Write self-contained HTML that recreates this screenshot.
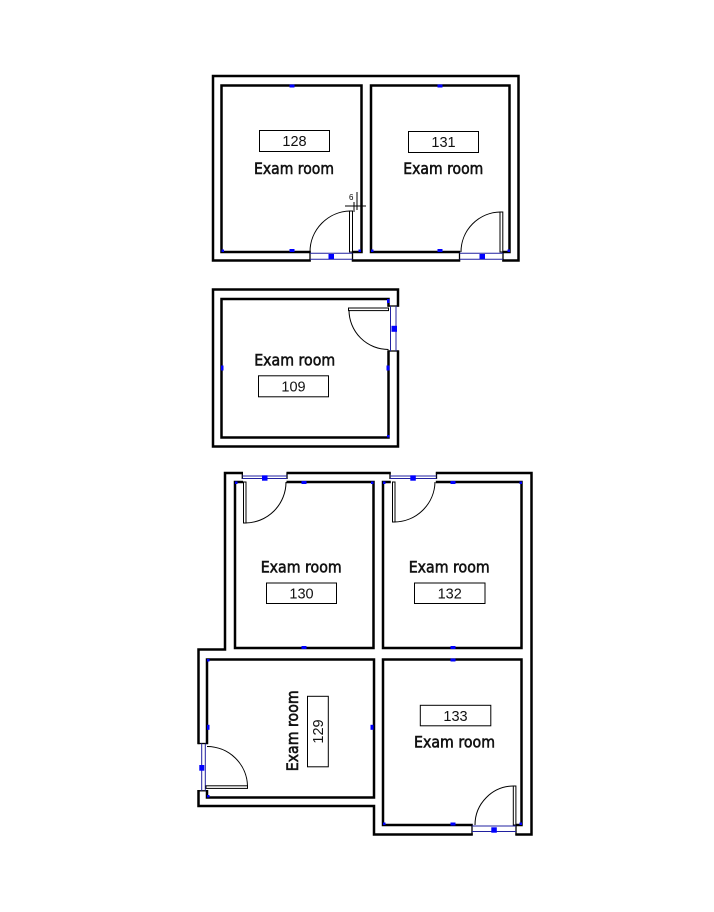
<!DOCTYPE html>
<html><head><meta charset="utf-8"><style>
html,body{margin:0;padding:0;background:#fff;}
svg{display:block;}
.w{fill:none;stroke:#000;stroke-width:2.5;}
.j{fill:none;stroke:#000;stroke-width:1.3;}
.n{fill:none;stroke:#2020a0;stroke-width:1;}
.b{fill:#0000ff;}
.leaf{fill:#fff;stroke:#000;stroke-width:1;}
.arc{fill:none;stroke:#000;stroke-width:1;}
.lbl{font-family:"DejaVu Sans","Liberation Sans",sans-serif;font-size:16px;fill:#111;stroke:#111;stroke-width:0.6;}
.num{font-family:"Liberation Sans",sans-serif;font-size:14.5px;fill:#111;}
.box{fill:#fff;stroke:#000;stroke-width:1;}
</style></head><body>
<svg width="714" height="912" viewBox="0 0 714 912" xmlns="http://www.w3.org/2000/svg">
<rect width="714" height="912" fill="#fff"/>

<!-- ===== TOP BLOCK ===== -->
<rect class="w" x="213" y="76" width="305.5" height="184.5"/>
<rect class="w" x="221.5" y="85.5" width="140" height="166.5"/>
<rect class="w" x="371" y="85.5" width="138.5" height="166.5"/>
<!-- door 128 -->
<rect x="310.8" y="249.5" width="41" height="13" fill="#fff"/>
<line class="j" x1="310" y1="251.5" x2="310" y2="261.5"/>
<line class="j" x1="352.5" y1="251.5" x2="352.5" y2="261.5"/>
<line class="n" x1="310" y1="253.3" x2="352.5" y2="253.3"/>
<line class="n" x1="310" y1="259.3" x2="352.5" y2="259.3"/>
<rect class="b" x="328.5" y="254" width="5.5" height="5"/>
<rect class="leaf" x="349.5" y="211" width="3" height="41"/>
<path class="arc" d="M350,211 A41,41 0 0,0 310,252"/>
<text x="349" y="200" font-family="Liberation Sans,sans-serif" font-size="8" fill="#000">6</text>
<line x1="345" y1="206" x2="366" y2="206" stroke="#000" stroke-width="1"/>
<line x1="354" y1="202" x2="354" y2="212" stroke="#000" stroke-width="1"/>
<line x1="357" y1="192" x2="357" y2="210" stroke="#000" stroke-width="1"/>
<!-- door 131 -->
<rect x="460.2" y="249.5" width="42" height="13" fill="#fff"/>
<line class="j" x1="459.5" y1="251.5" x2="459.5" y2="261.5"/>
<line class="j" x1="503" y1="251.5" x2="503" y2="261.5"/>
<line class="n" x1="459.5" y1="253.3" x2="503" y2="253.3"/>
<line class="n" x1="459.5" y1="259.3" x2="503" y2="259.3"/>
<rect class="b" x="479.5" y="254" width="5.5" height="5"/>
<rect class="leaf" x="500" y="212" width="2.8" height="40"/>
<path class="arc" d="M500.5,212 A40,40 0 0,0 461,252"/>
<!-- markers -->
<rect class="b" x="289.5" y="84.5" width="5" height="3"/>
<rect class="b" x="289.5" y="249" width="5" height="3"/>
<rect class="b" x="437.5" y="84.5" width="5" height="3"/>
<rect class="b" x="437.5" y="249" width="5" height="3"/>
<rect class="b" x="221.5" y="249.5" width="2.5" height="2.5"/>
<rect class="b" x="358.5" y="249.5" width="2.5" height="2.5"/>
<rect class="b" x="371" y="249.5" width="2.5" height="2.5"/>
<rect class="b" x="507.5" y="249.5" width="2.5" height="2.5"/>
<!-- labels -->
<rect class="box" x="259.5" y="130.5" width="70" height="21"/>
<text class="num" x="294.5" y="146" text-anchor="middle">128</text>
<text class="lbl" x="294" y="174" text-anchor="middle" textLength="80" lengthAdjust="spacingAndGlyphs">Exam room</text>
<rect class="box" x="408.5" y="131.5" width="70" height="21"/>
<text class="num" x="443.5" y="147" text-anchor="middle">131</text>
<text class="lbl" x="443.3" y="174" text-anchor="middle" textLength="80" lengthAdjust="spacingAndGlyphs">Exam room</text>

<!-- ===== MIDDLE BLOCK (109) ===== -->
<rect class="w" x="213" y="289.5" width="185" height="157"/>
<rect class="w" x="221.5" y="299" width="167" height="138.5"/>
<rect x="387" y="306.8" width="12.5" height="43.5" fill="#fff"/>
<line class="j" x1="388" y1="306" x2="398.5" y2="306"/>
<line class="j" x1="388" y1="351" x2="398.5" y2="351"/>
<line class="n" x1="390.5" y1="306" x2="390.5" y2="351"/>
<line class="n" x1="396" y1="306" x2="396" y2="351"/>
<rect class="b" x="391.5" y="325.8" width="5.5" height="6"/>
<rect class="leaf" x="348.5" y="308" width="40" height="2.6"/>
<path class="arc" d="M349,310 A39.5,39.5 0 0,0 388.5,349.5"/>
<rect class="b" x="221" y="365.5" width="2.5" height="5"/>
<rect class="b" x="386.5" y="365.5" width="3" height="5"/>
<rect class="b" x="387" y="299" width="2.5" height="4"/>
<rect class="b" x="387" y="435" width="2.5" height="2.5"/>
<text class="lbl" x="294.7" y="365.7" text-anchor="middle" textLength="81" lengthAdjust="spacingAndGlyphs">Exam room</text>
<rect class="box" x="258.5" y="375.8" width="70" height="21"/>
<text class="num" x="293.5" y="391.5" text-anchor="middle">109</text>

<!-- ===== BOTTOM BLOCK ===== -->
<path class="w" d="M225,649.5 V473 H531.5 V834.5 H374 V806 H198.5 V649.5 Z"/>
<rect class="w" x="235" y="482" width="138.5" height="166"/>
<rect class="w" x="383" y="482" width="138.5" height="166"/>
<rect class="w" x="207" y="659.5" width="167" height="138"/>
<rect class="w" x="383" y="659.5" width="138.5" height="165.5"/>
<!-- door 130 -->
<rect x="243" y="471" width="43.5" height="12.5" fill="#fff"/>
<line class="j" x1="242.3" y1="472.5" x2="242.3" y2="479"/>
<line class="j" x1="287" y1="472.5" x2="287" y2="479"/>
<line class="n" x1="242.3" y1="476" x2="287" y2="476"/>
<line class="n" x1="242.3" y1="478.5" x2="287" y2="478.5"/>
<rect class="b" x="262" y="475.3" width="5.5" height="5.4"/>
<rect class="leaf" x="243.5" y="482" width="2.5" height="41"/>
<path class="arc" d="M245,523 A41,41 0 0,0 286,482"/>
<!-- door 132 -->
<rect x="390.8" y="471" width="45" height="12.5" fill="#fff"/>
<line class="j" x1="390" y1="472.5" x2="390" y2="479"/>
<line class="j" x1="436.5" y1="472.5" x2="436.5" y2="479"/>
<line class="n" x1="390" y1="476" x2="436.5" y2="476"/>
<line class="n" x1="390" y1="478.5" x2="436.5" y2="478.5"/>
<rect class="b" x="410.3" y="475.3" width="5.5" height="5.4"/>
<rect class="leaf" x="392.5" y="482" width="2.5" height="40"/>
<path class="arc" d="M394,522 A41,41 0 0,0 435,482"/>
<!-- door 129 -->
<rect x="197" y="744.2" width="11.5" height="45.8" fill="#fff"/>
<line class="j" x1="198" y1="743.5" x2="207.5" y2="743.5"/>
<line class="j" x1="198" y1="790.8" x2="207.5" y2="790.8"/>
<line class="n" x1="201.7" y1="743.5" x2="201.7" y2="790.8"/>
<line class="n" x1="205.3" y1="743.5" x2="205.3" y2="790.8"/>
<rect class="b" x="199.3" y="765" width="5" height="5.7"/>
<rect class="leaf" x="206" y="785.8" width="41.5" height="2.6"/>
<path class="arc" d="M207,746.5 A40.5,40.5 0 0,1 247.5,786"/>
<!-- door 133 -->
<rect x="472.8" y="823.5" width="42.5" height="12.5" fill="#fff"/>
<line class="j" x1="472" y1="825" x2="472" y2="835"/>
<line class="j" x1="516" y1="825" x2="516" y2="835"/>
<line class="n" x1="472" y1="826" x2="516" y2="826"/>
<line class="n" x1="472" y1="831.5" x2="516" y2="831.5"/>
<rect class="b" x="491.3" y="827.3" width="5.5" height="5.4"/>
<rect class="leaf" x="513.3" y="786" width="2.6" height="39"/>
<path class="arc" d="M513.5,786 A39,39 0 0,0 475,825"/>
<!-- markers -->
<rect class="b" x="301.5" y="481" width="5" height="3"/>
<rect class="b" x="301.5" y="646" width="5" height="3"/>
<rect class="b" x="235" y="481.5" width="2.5" height="2.5"/>
<rect class="b" x="371" y="481.5" width="2.5" height="2.5"/>
<rect class="b" x="450.5" y="481" width="5" height="3"/>
<rect class="b" x="450.5" y="646" width="5" height="3"/>
<rect class="b" x="383" y="481.5" width="2.5" height="2.5"/>
<rect class="b" x="519.5" y="481.5" width="2.5" height="2.5"/>
<rect class="b" x="207" y="659" width="2.5" height="2.5"/>
<rect class="b" x="207" y="724.8" width="2.5" height="5"/>
<rect class="b" x="370.5" y="724.8" width="3" height="5"/>
<rect class="b" x="207" y="795" width="2.5" height="2.5"/>
<rect class="b" x="450.5" y="658.5" width="5" height="3"/>
<rect class="b" x="450.5" y="822.5" width="5" height="3"/>
<rect class="b" x="383" y="822.5" width="2.5" height="2.5"/>
<rect class="b" x="519.5" y="822.5" width="2.5" height="2.5"/>
<!-- labels -->
<text class="lbl" x="301.2" y="572.7" text-anchor="middle" textLength="81" lengthAdjust="spacingAndGlyphs">Exam room</text>
<rect class="box" x="266.5" y="583" width="70" height="20.5"/>
<text class="num" x="301.5" y="598.5" text-anchor="middle">130</text>
<text class="lbl" x="449.2" y="572.7" text-anchor="middle" textLength="81" lengthAdjust="spacingAndGlyphs">Exam room</text>
<rect class="box" x="414.5" y="583" width="70.5" height="20.5"/>
<text class="num" x="449.7" y="598.5" text-anchor="middle">132</text>
<rect class="box" x="420.3" y="705.3" width="70.5" height="20.5"/>
<text class="num" x="455.5" y="720.8" text-anchor="middle">133</text>
<text class="lbl" x="454.5" y="747.3" text-anchor="middle" textLength="81" lengthAdjust="spacingAndGlyphs">Exam room</text>
<text class="lbl" transform="translate(298.2,730.8) rotate(-90)" x="0" y="0" text-anchor="middle" textLength="81" lengthAdjust="spacingAndGlyphs">Exam room</text>
<rect class="box" x="307.5" y="696.3" width="20.8" height="70.5"/>
<text class="num" transform="translate(323,731.5) rotate(-90)" x="0" y="0" text-anchor="middle">129</text>
</svg>
</body></html>
